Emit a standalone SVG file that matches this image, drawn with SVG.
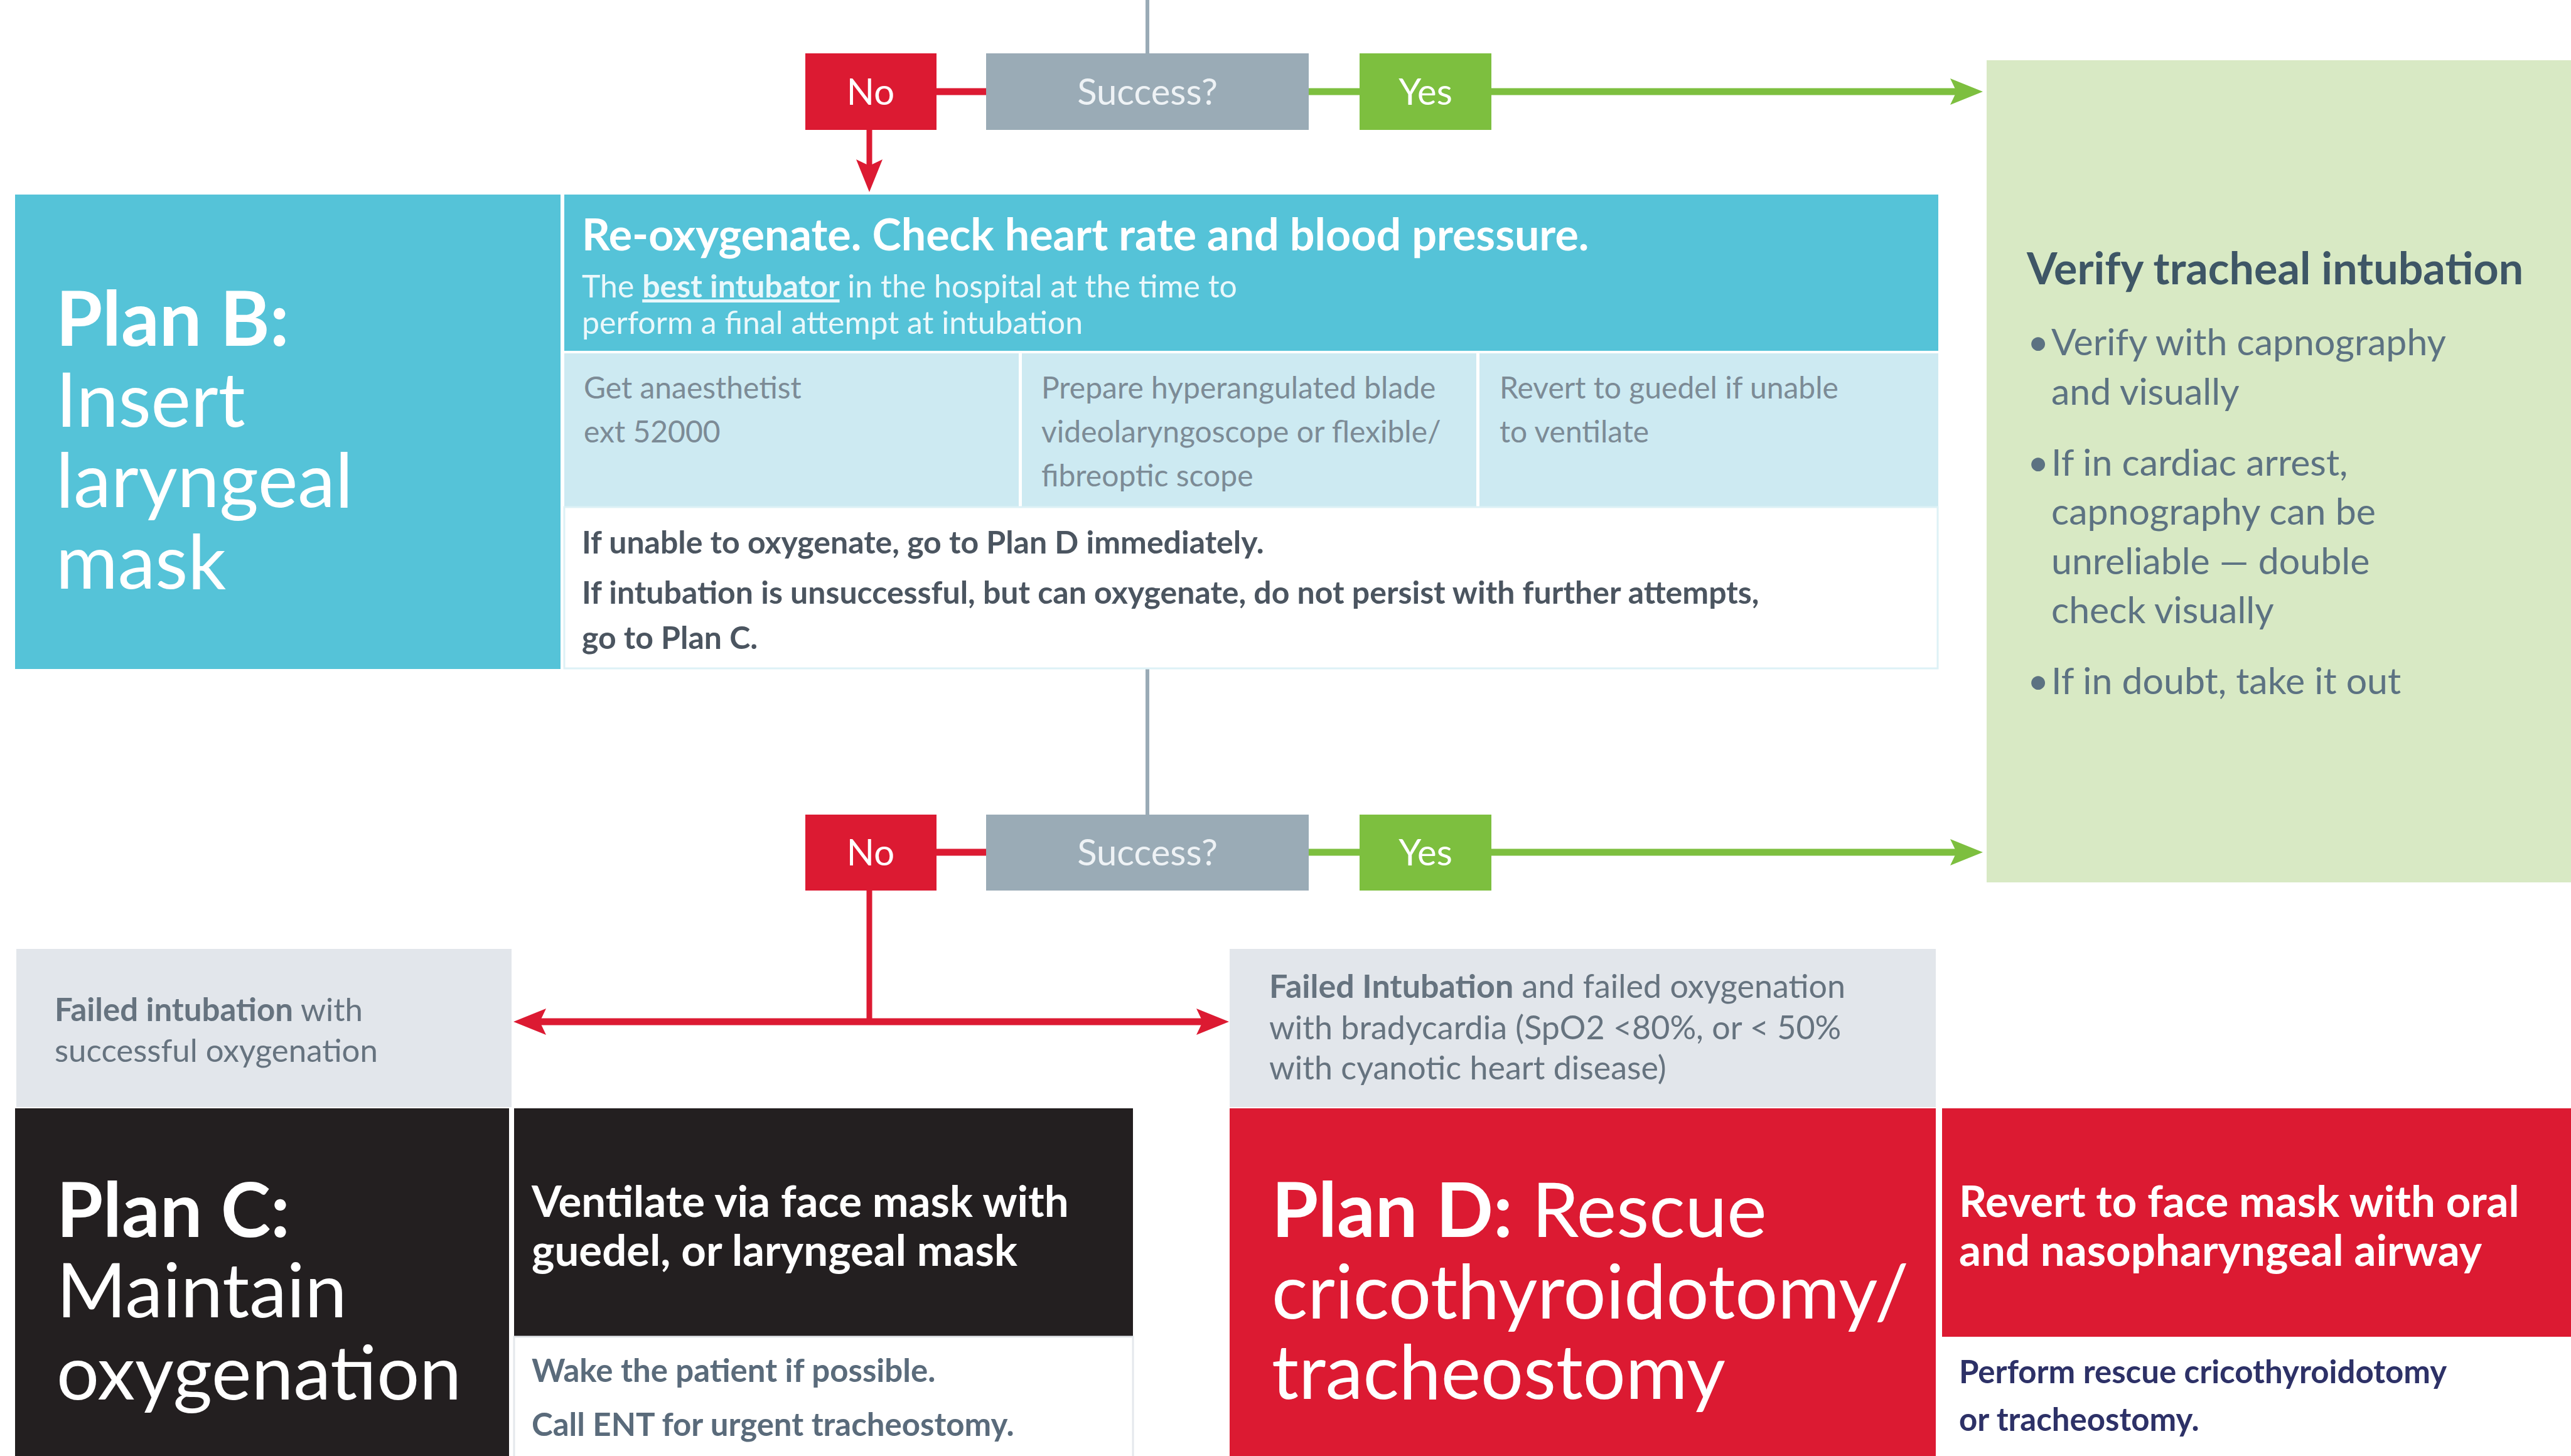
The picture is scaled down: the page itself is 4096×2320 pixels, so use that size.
<svg xmlns="http://www.w3.org/2000/svg" width="4096" height="2320" viewBox="0 0 4096 2320">
<defs>
<style>
text{font-family:Lato,"Liberation Sans",sans-serif}
.plan{font-size:120px;fill:#fff}
.b{font-weight:700}
.dec{font-size:58px;fill:#fff;text-anchor:middle}
.red{fill:#DC1A32}
.grn{fill:#7DBF3F}
.gry{fill:#9AABB6}
.hdr{font-size:70px;fill:#fff;font-weight:700}
.sub{font-size:50px;fill:#EAF8FB}
.cell{font-size:48px;fill:#7C8B96}
.note{font-size:50px;fill:#4B5560;font-weight:700}
.gt{font-size:70px;fill:#3E5666;font-weight:700}
.gb{font-size:59px;fill:#5C7282}
.fail{font-size:51px;fill:#66737F}
.act{font-size:69px;fill:#fff;font-weight:700}
.foot{font-size:51px;font-weight:700}
.line-r{stroke:#DC1A32;fill:none}
.line-g{stroke:#7DBF3F;fill:none}
</style>
<marker id="ah-red" markerUnits="userSpaceOnUse" viewBox="0 -22 52 44" markerWidth="52" markerHeight="44" refX="10" refY="0" orient="auto-start-reverse">
<path d="M0,-21 L52,0 L0,21 L10,0 Z" fill="#DC1A32"/>
</marker>
<marker id="ah-grn" markerUnits="userSpaceOnUse" viewBox="0 -22 52 44" markerWidth="52" markerHeight="44" refX="10" refY="0" orient="auto">
<path d="M0,-21 L52,0 L0,21 L10,0 Z" fill="#7DBF3F"/>
</marker>
</defs>
<rect width="4096" height="2320" fill="#fff"/>

<g id="connectors">
<line x1="1828" y1="0" x2="1828" y2="85" stroke="#9AABB6" stroke-width="6"/>
<line x1="1492" y1="146" x2="1571" y2="146" class="line-r" stroke-width="11"/>
<line x1="2085" y1="146" x2="2166" y2="146" class="line-g" stroke-width="11"/>
<line x1="2376" y1="146" x2="3117" y2="146" class="line-g" stroke-width="11" marker-end="url(#ah-grn)"/>
<line x1="1385" y1="207" x2="1385" y2="264" class="line-r" stroke-width="9" marker-end="url(#ah-red)"/>
<line x1="1828" y1="1066" x2="1828" y2="1298" stroke="#9AABB6" stroke-width="6"/>
<line x1="1492" y1="1358" x2="1571" y2="1358" class="line-r" stroke-width="11"/>
<line x1="2085" y1="1358" x2="2166" y2="1358" class="line-g" stroke-width="11"/>
<line x1="2376" y1="1358" x2="3117" y2="1358" class="line-g" stroke-width="11" marker-end="url(#ah-grn)"/>
<line x1="1385" y1="1419" x2="1385" y2="1628" class="line-r" stroke-width="9"/>
<line x1="860" y1="1628" x2="1916" y2="1628" class="line-r" stroke-width="11" marker-start="url(#ah-red)" marker-end="url(#ah-red)"/>
</g>

<g id="decision-1">
<rect x="1283" y="85" width="209" height="122" class="red"/>
<text x="1387" y="167" class="dec">No</text>
<rect x="1571" y="85" width="514" height="122" class="gry"/>
<text x="1828" y="167" class="dec" style="fill:#EEF2F5">Success?</text>
<rect x="2166" y="85" width="210" height="122" class="grn"/>
<text x="2271" y="167" class="dec">Yes</text>
</g>

<g id="plan-b">
<rect x="24" y="310" width="869" height="756" fill="#55C3D8"/>
<text class="plan b" x="89" y="551">Plan B:</text>
<text class="plan" x="89" y="680">Insert</text>
<text class="plan" x="89" y="808">laryngeal</text>
<text class="plan" x="89" y="938">mask</text>
</g>

<g id="plan-b-detail">
<rect x="899" y="310" width="2189" height="249" fill="#55C3D8"/>
<text class="hdr" x="927" y="399">Re-oxygenate. Check heart rate and blood pressure.</text>
<text class="sub" x="927" y="474">The <tspan font-weight="700" text-decoration="underline">best intubator</tspan> in the hospital at the time to</text>
<text class="sub" x="927" y="532">perform a final attempt at intubation</text>
<rect x="899" y="563" width="724" height="245" fill="#CDEAF2"/>
<rect x="1628" y="563" width="724" height="245" fill="#CDEAF2"/>
<rect x="2357" y="563" width="731" height="245" fill="#CDEAF2"/>
<text class="cell" x="930" y="635">Get anaesthetist</text>
<text class="cell" x="930" y="705">ext 52000</text>
<text class="cell" x="1659" y="635">Prepare hyperangulated blade</text>
<text class="cell" x="1659" y="705">videolaryngoscope or flexible/</text>
<text class="cell" x="1659" y="775">fibreoptic scope</text>
<text class="cell" x="2389" y="635">Revert to guedel if unable</text>
<text class="cell" x="2389" y="705">to ventilate</text>
<rect x="899" y="808" width="2188" height="257" fill="#fff" stroke="#DDF1F6" stroke-width="3"/>
<text class="note" x="927" y="882">If unable to oxygenate, go to Plan D immediately.</text>
<text class="note" x="927" y="962">If intubation is unsuccessful, but can oxygenate, do not persist with further attempts,</text>
<text class="note" x="927" y="1034">go to Plan C.</text>
</g>

<g id="verify">
<rect x="3165" y="96" width="931" height="1310" fill="#D8E9C4"/>
<text class="gt" x="3229" y="453">Verify tracheal intubation</text>
<text class="gb" x="3230" y="566">•</text>
<text class="gb" x="3268" y="566">Verify with capnography</text>
<text class="gb" x="3268" y="645">and visually</text>
<text class="gb" x="3230" y="758">•</text>
<text class="gb" x="3268" y="758">If in cardiac arrest,</text>
<text class="gb" x="3268" y="836">capnography can be</text>
<text class="gb" x="3268" y="915">unreliable  — double</text>
<text class="gb" x="3268" y="993">check visually</text>
<text class="gb" x="3230" y="1106">•</text>
<text class="gb" x="3268" y="1106">If in doubt, take it out</text>
</g>

<g id="decision-2">
<rect x="1283" y="1298" width="209" height="121" class="red"/>
<text x="1387" y="1379" class="dec">No</text>
<rect x="1571" y="1298" width="514" height="121" class="gry"/>
<text x="1828" y="1379" class="dec" style="fill:#EEF2F5">Success?</text>
<rect x="2166" y="1298" width="210" height="121" class="grn"/>
<text x="2271" y="1379" class="dec">Yes</text>
</g>

<g id="fail-oxygenation-ok">
<rect x="26" y="1512" width="789" height="252" fill="#E2E6EB"/>
<text class="fail" x="87" y="1627"><tspan font-weight="700">Failed intubation</tspan> with</text>
<text class="fail" x="87" y="1692">successful oxygenation</text>
</g>

<g id="fail-oxygenation-failed">
<rect x="1959" y="1512" width="1125" height="252" fill="#E2E6EB"/>
<text class="fail" x="2022" y="1590" style="font-size:52px"><tspan font-weight="700">Failed Intubation</tspan> and failed oxygenation</text>
<text class="fail" x="2022" y="1656" style="font-size:52px">with bradycardia (SpO2 &lt;80%, or &lt; 50%</text>
<text class="fail" x="2022" y="1720" style="font-size:52px">with cyanotic heart disease)</text>
</g>

<g id="plan-c">
<rect x="24" y="1766" width="787" height="554" fill="#231F20"/>
<text class="plan b" x="90" y="1971">Plan C:</text>
<text class="plan" x="90" y="2099">Maintain</text>
<text class="plan" x="90" y="2230">oxygenation</text>
</g>

<g id="plan-c-detail">
<rect x="819" y="1766" width="986" height="364" fill="#231F20"/>
<text class="act" x="847" y="1939">Ventilate via face mask with</text>
<text class="act" x="847" y="2017">guedel, or laryngeal mask</text>
<rect x="819" y="2130" width="986" height="200" fill="#fff" stroke="#E4E8EC" stroke-width="3"/>
<text class="foot" style="fill:#5A6B7B" x="847" y="2202">Wake the patient if possible.</text>
<text class="foot" style="fill:#5A6B7B" x="847" y="2288">Call ENT for urgent tracheostomy.</text>
</g>

<g id="plan-d">
<rect x="1959" y="1766" width="1125" height="554" class="red"/>
<text class="plan" x="2026" y="1971"><tspan font-weight="700">Plan D:</tspan> Rescue</text>
<text class="plan" x="2026" y="2101">cricothyroidotomy/</text>
<text class="plan" x="2026" y="2229">tracheostomy</text>
</g>

<g id="plan-d-detail">
<rect x="3094" y="1766" width="1002" height="364" class="red"/>
<text class="act" x="3121" y="1939">Revert to face mask with oral</text>
<text class="act" x="3121" y="2017">and nasopharyngeal airway</text>
<text class="foot" style="fill:#2D3167" x="3121" y="2204">Perform rescue cricothyroidotomy</text>
<text class="foot" style="fill:#2D3167" x="3121" y="2280">or tracheostomy.</text>
</g>
</svg>
